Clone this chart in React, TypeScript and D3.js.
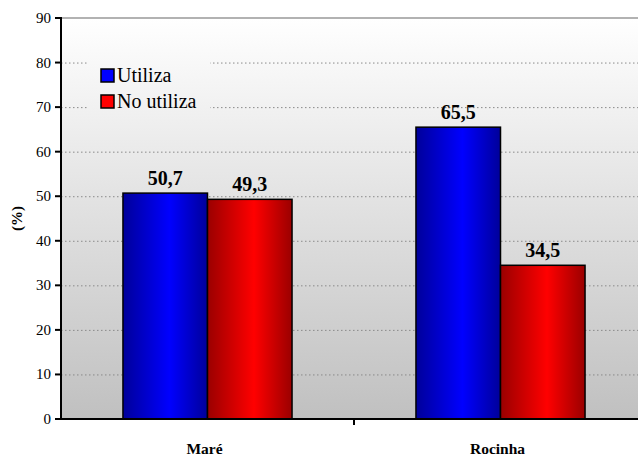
import React, { useEffect } from "react";
import * as d3 from "d3";

const categories = ["Maré", "Rocinha"];
const seriesNames = ["Utiliza", "No utiliza"];
const utiliza = [50.7, 65.5];
const noUtiliza = [49.3, 34.5];
const yTicks = [0, 10, 20, 30, 40, 50, 60, 70, 80, 90];

const serif = { fontFamily: '"Liberation Serif"' };

const width = 638;
const height = 461;
const left = 61;
const right = 647; // plot area runs past the window edge
const top = 18;
const bottom = 419;

const App: React.FC = () => {
  useEffect(() => {
    document.body.style.margin = "0";
  }, []);

  const x0 = d3.scaleBand().domain(categories).range([left, right]);
  const x1 = d3
    .scaleBand()
    .domain(seriesNames)
    .range([0, x0.bandwidth()])
    .paddingInner(0)
    .paddingOuter(0.733);
  const y = d3.scaleLinear().domain([0, 90]).range([bottom, top]);
  const colors = ["blue", "red"];
  const data = [utiliza, noUtiliza];

  return (
    <svg width={width} height={height} style={{ display: "block" }}>
      <defs>
        <linearGradient id="bg" gradientUnits="userSpaceOnUse" x1={0} y1={top} x2={0} y2={bottom}>
          <stop offset="0%" stopColor="#ffffff" />
          <stop offset="100%" stopColor="#c0c0c0" />
        </linearGradient>
        <linearGradient id="g-blue" x1="0%" y1="0%" x2="100%" y2="0%">
          <stop offset="0%" stopColor="#00009a" />
          <stop offset="55%" stopColor="#0000ff" />
          <stop offset="100%" stopColor="#00009a" />
        </linearGradient>
        <linearGradient id="g-red" x1="0%" y1="0%" x2="100%" y2="0%">
          <stop offset="0%" stopColor="#9a0000" />
          <stop offset="55%" stopColor="#ff0000" />
          <stop offset="100%" stopColor="#9a0000" />
        </linearGradient>
      </defs>

      {/* plot background */}
      <rect x={left} y={top} width={right - left} height={bottom - top} fill="url(#bg)" />
      <line x1={left} x2={width} y1={top} y2={top} stroke="#999" strokeWidth={1.5} />

      {/* gridlines */}
      {yTicks
        .filter((t) => t > 0 && t < 90)
        .map((t) => (
          <line
            key={t}
            x1={left}
            x2={width}
            y1={y(t) + 0.5}
            y2={y(t) + 0.5}
            stroke="#8a8a8a"
            strokeWidth={1}
            strokeDasharray="1.5,2.5"
          />
        ))}

      {/* legend box hides the gridlines behind it */}
      <rect x={89} y={56} width={121} height={58} fill="url(#bg)" />

      {/* bars */}
      {categories.map((cat, ci) => (
        <g key={cat} transform={`translate(${x0(cat)},0)`}>
          {seriesNames.map((s, si) => {
            const v = data[si][ci];
            return (
              <g key={s}>
                <rect
                  x={x1(s)}
                  y={y(v)}
                  width={x1.bandwidth()}
                  height={bottom - y(v)}
                  fill={`url(#g-${colors[si]})`}
                  stroke="#000"
                  strokeWidth={1.5}
                />
                <text
                  x={x1(s)! + x1.bandwidth() / 2}
                  y={y(v) - 8}
                  textAnchor="middle"
                  fontSize={20}
                  fontWeight="bold"
                  style={serif}
                >
                  {v.toFixed(1).replace(".", ",")}
                </text>
              </g>
            );
          })}
        </g>
      ))}

      {/* y axis */}
      <line x1={left} x2={left} y1={top - 1} y2={bottom} stroke="#000" strokeWidth={2} />
      {yTicks.map((t) => (
        <g key={t} transform={`translate(0,${y(t)})`}>
          <line x1={left - 6} x2={left} stroke="#000" strokeWidth={2} />
          <text x={left - 10} dy="0.33em" textAnchor="end" fontSize={15} style={serif}>
            {t}
          </text>
        </g>
      ))}

      {/* x axis */}
      <line x1={left - 6} x2={width} y1={bottom} y2={bottom} stroke="#000" strokeWidth={2} />
      {categories.slice(1).map((c) => (
        <line key={c} x1={x0(c)} x2={x0(c)} y1={bottom} y2={bottom + 6} stroke="#000" strokeWidth={2} />
      ))}
      {categories.map((c) => (
        <text
          key={c}
          x={x0(c)! + x0.bandwidth() / 2 - 3}
          y={454}
          textAnchor="middle"
          fontSize={15.5}
          fontWeight="bold"
          style={serif}
        >
          {c}
        </text>
      ))}

      {/* y label */}
      <text
        transform={`translate(22,${(top + bottom) / 2}) rotate(-90)`}
        textAnchor="middle"
        fontSize={15}
        fontWeight="bold"
        style={serif}
      >
        (%)
      </text>

      {/* legend */}
      {seriesNames.map((s, i) => (
        <g key={s} transform={`translate(101,${69 + i * 26})`}>
          <rect width={13} height={13} fill={colors[i]} stroke="#000" strokeWidth={1.5} />
          <text x={16} y={13} fontSize={20} style={serif}>
            {s}
          </text>
        </g>
      ))}
    </svg>
  );
};

export default App;
